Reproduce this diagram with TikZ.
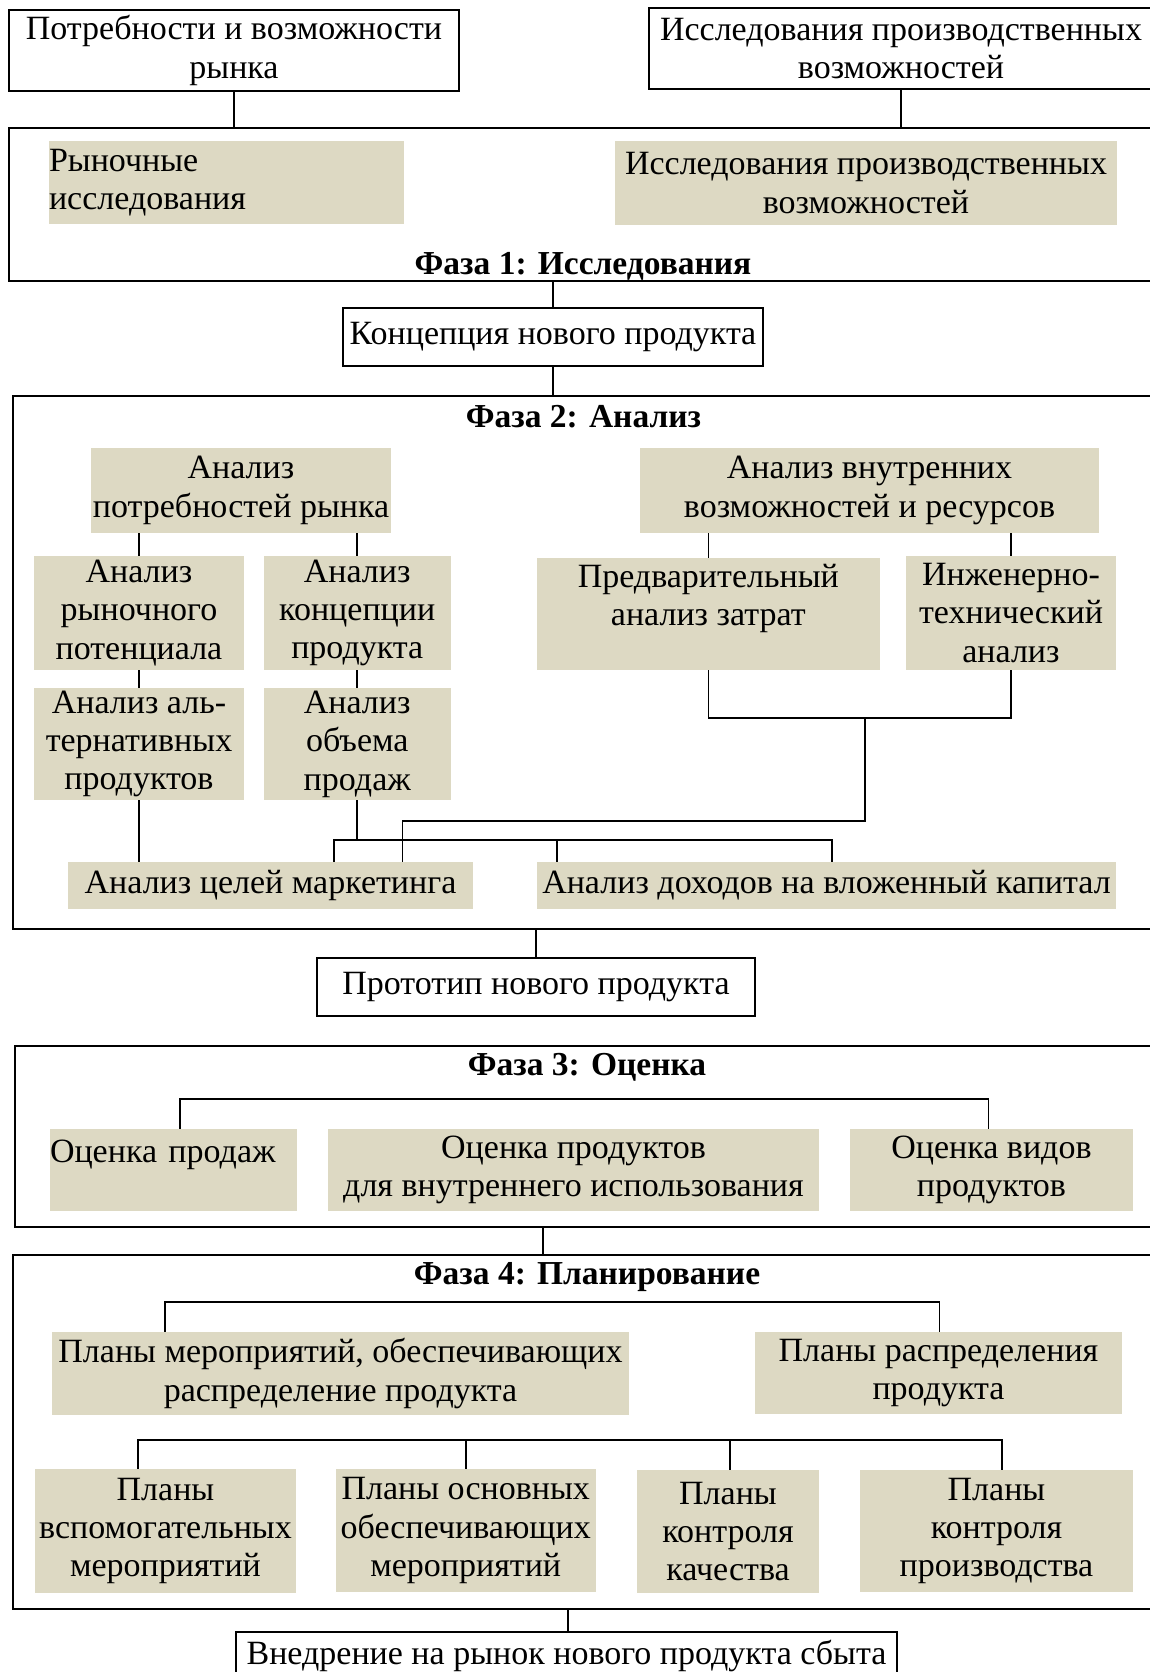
\documentclass[tikz,border=0pt]{standalone}
\usepackage{fontspec}
\setmainfont{Liberation Serif}
\definecolor{beige}{HTML}{DDD9C3}
\tikzset{
 every node/.style={font=\fontsize{34}{38.4}\selectfont},
 plainbox/.style={draw, line width=2pt, inner sep=0pt, align=center},
 fillbox/.style={fill=beige, draw=none, inner sep=0pt, align=center},
 conn/.style={line width=1.6pt},
 phasetitle/.style={font=\fontsize{33.5}{38.4}\selectfont\bfseries, inner sep=0pt},
}
\newcommand{\bx}[7]{\node[#7, minimum width={#4-(#2)}, minimum height={#5-(#3)}] (#1) at ({(#2+#4)/2},{(#3+#5)/2}) {#6};}
\begin{document}
\begin{tikzpicture}[x=1pt,y=-1pt]
\useasboundingbox (0,0) rectangle (1150,1672);
% ---------- top
\bx{n1}{9}{10}{459}{91}{\raisebox{-4pt}{\parbox{440pt}{\centering Потребности и возможности\\рынка}}}{plainbox}
\bx{n2}{649}{8.5}{1153}{89}{Исследования производственных\\возможностей}{plainbox}
\bx{ph1}{9}{128}{1160}{281}{}{plainbox}
\node[phasetitle] (t1) at (583,266) {Фаза 1: Исследования};
\bx{r1}{49}{141}{404}{224}{Рыночные\\исследования}{fillbox, align=left, text width=355}
\bx{r2}{615}{141}{1117}{225}{Исследования производственных\\возможностей}{fillbox}
\draw[conn] (n1.south) -- (n1.south |- ph1.north);
\draw[conn] (n2.south) -- (n2.south |- ph1.north);
% ---------- concept
\bx{k1}{343}{308}{763}{366}{Концепция нового продукта}{plainbox}
\draw[conn] (k1.north |- ph1.south) -- (k1.north);
% ---------- phase 2
\bx{ph2}{13}{396}{1160}{929}{}{plainbox}
\draw[conn] (k1.south) -- (k1.south |- ph2.north);
\node[phasetitle] (t2) at (583.5,417) {Фаза 2: Анализ};
\bx{a1}{91}{448}{391}{533}{Анализ\\потребностей рынка}{fillbox}
\bx{a2}{640}{448}{1099}{533}{Анализ внутренних\\возможностей и ресурсов}{fillbox}
\bx{a3}{34}{556}{244}{670}{Анализ\\рыночного\\потенциала}{fillbox}
\bx{a4}{263.5}{556}{451}{670}{Анализ\\концепции\\продукта}{fillbox}
\bx{a5}{536.6}{558}{880}{670}{Предварительный\\анализ затрат\\\mbox{}}{fillbox}
\bx{a6}{906}{556}{1116}{670}{Инженерно-\\технический\\анализ}{fillbox}
\bx{a7}{34}{688}{244}{800}{Анализ аль-\\тернативных\\продуктов}{fillbox}
\bx{a8}{263.5}{688}{451}{800}{Анализ\\объема\\продаж}{fillbox}
\bx{a9}{68}{862}{473}{909}{Анализ целей маркетинга}{fillbox}
\bx{a10}{537}{862}{1116}{909}{Анализ доходов на вложенный капитал}{fillbox}
\draw[conn] (a3.north) -- (a3.north |- a1.south);
\draw[conn] (a4.north) -- (a4.north |- a1.south);
\draw[conn] (a5.north) -- (a5.north |- a2.south);
\draw[conn] (a6.north) -- (a6.north |- a2.south);
\draw[conn] (a3.south) -- (a7.north);
\draw[conn] (a4.south) -- (a8.north);
\coordinate (m1) at (865,718);
\coordinate (m2) at (402.6,821);
\draw[conn] (a5.south) -- (a5.south |- m1) -- (a6.south |- m1) -- (a6.south);
\draw[conn] (m1) |- (m2) -- (m2 |- a9.north);
\coordinate (h1) at (334,840);
\coordinate (h2) at (832,840);
\coordinate (h3) at (557,840);
\draw[conn] (h1 |- a9.north) -- (h1) -- (h2) -- (h2 |- a10.north);
\draw[conn] (h3) -- (h3 |- a10.north);
\draw[conn] (a8.south) -- (a8.south |- h1);
\draw[conn] (a7.south) -- (a7.south |- a9.north);
% ---------- prototype
\bx{pr}{317}{958}{755}{1016}{Прототип нового продукта}{plainbox}
\draw[conn] (pr.north |- ph2.south) -- (pr.north);
% ---------- phase 3
\bx{ph3}{15}{1046}{1160}{1227}{}{plainbox}
\node[phasetitle] (t3) at (587,1067) {Фаза 3: Оценка};
\bx{o1}{50}{1129}{297}{1211}{Оценка продаж\\\mbox{}}{fillbox, align=left, text width=247}
\bx{o2}{328}{1129}{819}{1211}{Оценка продуктов\\для внутреннего использования}{fillbox}
\bx{o3}{850}{1129}{1133}{1211}{Оценка видов\\продуктов}{fillbox}
\coordinate (c3l) at (180,1099);
\coordinate (c3r) at (988.6,1099);
\draw[conn] (c3l |- o1.north) -- (c3l) -- (c3r) -- (c3r |- o3.north);
% ---------- phase 4
\bx{ph4}{13}{1254.5}{1160}{1608.5}{}{plainbox}
\coordinate (c34) at (542.7,1240);
\draw[conn] (c34 |- ph3.south) -- (c34 |- ph4.north);
\node[phasetitle] (t4) at (587,1277) {Фаза 4: Планирование};
\bx{p1}{52}{1332}{629}{1415}{Планы мероприятий, обеспечивающих\\распределение продукта}{fillbox}
\bx{p2}{755}{1332}{1122}{1414}{Планы распределения\\продукта}{fillbox}
\coordinate (c4l) at (165,1302);
\coordinate (c4r) at (939.5,1302);
\draw[conn] (c4l |- p1.north) -- (c4l) -- (c4r) -- (c4r |- p2.north);
\bx{p3}{35}{1469}{296}{1593}{Планы\\вспомогательных\\мероприятий}{fillbox}
\bx{p4}{336}{1469}{595.5}{1592}{Планы основных\\обеспечивающих\\мероприятий}{fillbox}
\bx{p5}{637}{1470}{819}{1593}{Планы\\контроля\\качества}{fillbox}
\bx{p6}{860}{1470}{1133}{1592}{Планы\\контроля\\производства}{fillbox}
\coordinate (d1) at (138,1440);
\coordinate (d2) at (465.7,1440);
\coordinate (d3) at (729.7,1440);
\coordinate (d4) at (1002,1440);
\draw[conn] (d1 |- p3.north) -- (d1) -- (d4) -- (d4 |- p6.north);
\draw[conn] (d2) -- (d2 |- p4.north);
\draw[conn] (d3) -- (d3 |- p5.north);
% ---------- final
\bx{fin}{236}{1631.7}{897}{1680}{Внедрение на рынок нового продукта сбыта}{plainbox}
\coordinate (c45) at (567.7,1620);
\draw[conn] (c45 |- ph4.south) -- (c45 |- fin.north);
\end{tikzpicture}
\end{document}
